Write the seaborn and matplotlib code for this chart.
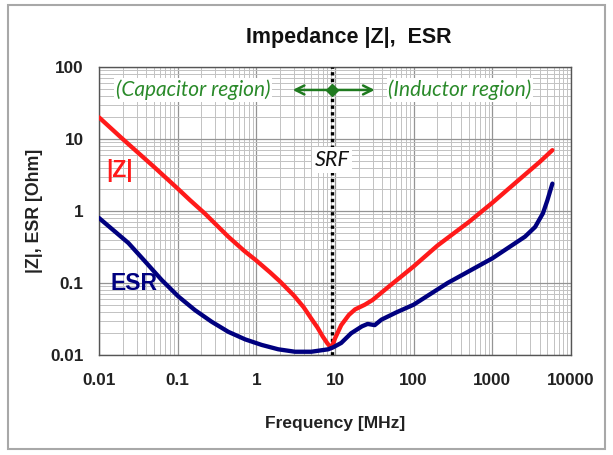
import numpy as np
import pandas as pd
import seaborn as sns
import matplotlib
matplotlib.use("Agg")
import matplotlib.pyplot as plt
from matplotlib.ticker import LogLocator, FixedLocator, FixedFormatter, NullFormatter
from matplotlib.patches import Rectangle

# ---- data ----
freq_z = [0.01, 0.02, 0.05, 0.1, 0.143, 0.22, 0.44, 0.7, 1.0, 1.5, 2.0, 3.0, 4.0, 5.0, 6.0, 7.0, 8.0, 9.0,
          10.0, 12.0, 15.0, 18.0, 24.0, 30.0, 47.0, 100.0, 200.0, 500.0, 1000.0, 2000.0, 4000.0, 5800.0]
z_vals = [20.0, 10.0, 4.1, 2.05, 1.42, 0.93, 0.44, 0.28, 0.205, 0.14, 0.105, 0.067, 0.046, 0.032, 0.024, 0.018, 0.0145, 0.0125,
          0.017, 0.026, 0.036, 0.043, 0.050, 0.058, 0.087, 0.17, 0.33, 0.70, 1.3, 2.5, 4.8, 7.0]

freq_esr = [0.01, 0.0236, 0.0384, 0.0627, 0.102, 0.166, 0.27, 0.44, 0.72, 1.17, 1.9, 3.1, 5.0, 8.2, 9.5, 12.0, 16.0, 22.0,
            26.0, 32.0, 39.0, 60.0, 100.0, 270.0, 1000.0, 2600.0, 3500.0, 4400.0, 5000.0, 5800.0]
esr_vals = [0.8, 0.36, 0.20, 0.11, 0.065, 0.042, 0.029, 0.021, 0.0165, 0.0138, 0.012, 0.0111, 0.0111, 0.012, 0.0128, 0.0147, 0.020, 0.025,
            0.027, 0.026, 0.031, 0.039, 0.050, 0.10, 0.22, 0.44, 0.60, 0.93, 1.4, 2.4]

srf_freq = 9.2
x_ticks = [0.01, 0.1, 1, 10, 100, 1000, 10000]
x_labels = ["0.01", "0.1", "1", "10", "100", "1000", "10000"]
y_ticks = [0.01, 0.1, 1, 10, 100]
y_labels = ["0.01", "0.1", "1", "10", "100"]

# ---- style ----
sns.set_theme(style="white")
plt.rcParams["font.family"] = ["Liberation Sans", "DejaVu Sans"]

W, H = 613, 455
fig = plt.figure(figsize=(W / 100, H / 100), dpi=100)
fig.patch.set_facecolor("white")
ax = fig.add_axes([99 / W, 1 - 355 / H, (571 - 99) / W, (355 - 67) / H])

df_z = pd.DataFrame({"f": freq_z, "v": z_vals})
df_e = pd.DataFrame({"f": freq_esr, "v": esr_vals})

ax.set_xscale("log")
ax.set_yscale("log")
sns.lineplot(data=df_z, x="f", y="v", ax=ax, color="#ff1a1a", linewidth=3.1, sort=False, zorder=5)
sns.lineplot(data=df_e, x="f", y="v", ax=ax, color="#00007f", linewidth=3.1, sort=False, zorder=5)
for ln in ax.lines:
    ln.set_solid_joinstyle("round")
    ln.set_solid_capstyle("round")

ax.set_xlim(0.01, 10000)
ax.set_ylim(0.01, 100)

ax.xaxis.set_major_locator(FixedLocator(x_ticks))
ax.xaxis.set_major_formatter(FixedFormatter(x_labels))
ax.yaxis.set_major_locator(FixedLocator(y_ticks))
ax.yaxis.set_major_formatter(FixedFormatter(y_labels))
ax.xaxis.set_minor_locator(LogLocator(base=10, subs=np.arange(2, 10), numticks=100))
ax.yaxis.set_minor_locator(LogLocator(base=10, subs=np.arange(2, 10), numticks=100))
ax.xaxis.set_minor_formatter(NullFormatter())
ax.yaxis.set_minor_formatter(NullFormatter())

ax.grid(True, which="major", color="#949494", linewidth=0.9)
ax.grid(True, which="minor", color="#c2c2c2", linewidth=0.7)
ax.set_axisbelow(True)
ax.tick_params(which="both", length=0)
ax.tick_params(axis="x", pad=13, labelsize=12.3)
ax.tick_params(axis="y", pad=11, labelsize=12.3)
for lab in ax.get_xticklabels() + ax.get_yticklabels():
    lab.set_fontweight("bold")
    lab.set_color("#222222")
for s in ax.spines.values():
    s.set_color("#555555")
    s.set_linewidth(1.0)

ax.set_xlabel("Frequency [MHz]", fontsize=12.5, fontweight="bold", color="#222222", labelpad=20)
ax.set_ylabel("|Z|, ESR [Ohm]", fontsize=12.8, fontweight="bold", color="#222222", labelpad=5)
ax.set_title("Impedance |Z|,  ESR", fontsize=15.5, fontweight="bold", color="#111111", pad=17, x=0.53)

# SRF dotted line
ax.axvline(srf_freq, color="black", linewidth=2.4, linestyle=(0, (1, 1)), zorder=4)
ax.text(srf_freq, 5.1, "SRF", ha="center", va="center", fontsize=15.5, style="italic",
        family=["Lato", "DejaVu Sans"], color="#111111", zorder=6,
        bbox=dict(facecolor="white", edgecolor="none", pad=2))

green = "#2a8a2a"
ax.annotate("", xy=(32, 48), xytext=(2.9, 48),
            arrowprops=dict(arrowstyle="<->", color="#1f7a1f", lw=1.8, mutation_scale=16,
                            shrinkA=0, shrinkB=0), zorder=6)
ax.plot([srf_freq], [48], marker="D", markersize=6, color="#1f7a1f", zorder=7)
ax.text(0.156, 48, "(Capacitor region)", ha="center", va="center", fontsize=15, style="italic",
        family=["Lato", "DejaVu Sans"], color=green, zorder=6,
        bbox=dict(facecolor="white", edgecolor="none", pad=1))
ax.text(386, 48, "(Inductor region)", ha="center", va="center", fontsize=15, style="italic",
        family=["Lato", "DejaVu Sans"], color=green, zorder=6,
        bbox=dict(facecolor="white", edgecolor="none", pad=1))

ax.text(0.0185, 3.7, "|Z|", ha="center", va="center", fontsize=16.5, fontweight="bold",
        color="#ff1a1a", zorder=6)
ax.text(0.0279, 0.1, "ESR", ha="center", va="center", fontsize=16.5, fontweight="bold",
        color="#00007f", zorder=6)

fig.patches.append(Rectangle((8 / W, 1 - 449 / H), (605 - 8) / W, (449 - 5) / H,
                             transform=fig.transFigure, fill=False,
                             edgecolor="#a8a8a8", linewidth=1.5))

fig.savefig("out.png", dpi=100, facecolor="white")
